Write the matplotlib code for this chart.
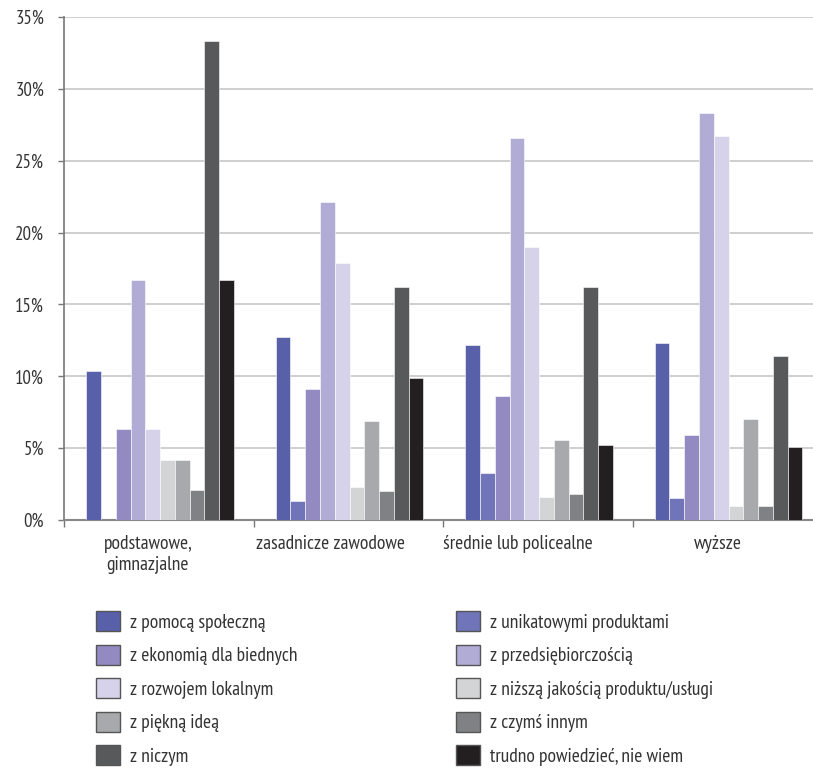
import matplotlib
matplotlib.use("Agg")
import matplotlib.pyplot as plt
from matplotlib.patches import Rectangle
from matplotlib.transforms import ScaledTranslation
import numpy as np

plt.rcParams['font.family'] = ['PT Sans Narrow', 'DejaVu Sans']

categories = ["podstawowe,\ngimnazjalne", "zasadnicze zawodowe", "średnie lub policealne", "wyższe"]
series = [
    "z pomocą społeczną",
    "z unikatowymi produktami",
    "z ekonomią dla biednych",
    "z przedsiębiorczością",
    "z rozwojem lokalnym",
    "z niższą jakością produktu/usługi",
    "z piękną ideą",
    "z czymś innym",
    "z niczym",
    "trudno powiedzieć, nie wiem",
]
colors = ["#5860AA", "#7074B8", "#938AC2", "#B1ACD6", "#D6D2E9",
          "#D3D4D5", "#A8A9AC", "#808184", "#58595B", "#231F20"]

s_pomoca = [10.4, 12.7, 12.2, 12.3]
s_unikat = [0.0, 1.3, 3.3, 1.5]
s_ekonomia = [6.3, 9.1, 8.6, 5.9]
s_przedsieb = [16.7, 22.1, 26.6, 28.3]
s_rozwoj = [6.3, 17.9, 19.0, 26.7]
s_nizsza = [4.2, 2.3, 1.6, 1.0]
s_piekna = [4.2, 6.9, 5.6, 7.0]
s_innym = [2.1, 2.0, 1.8, 1.0]
s_niczym = [33.3, 16.2, 16.2, 11.4]
s_trudno = [16.7, 9.9, 5.2, 5.1]
values = [s_pomoca, s_unikat, s_ekonomia, s_przedsieb, s_rozwoj,
          s_nizsza, s_piekna, s_innym, s_niczym, s_trudno]

yticks = [0, 5, 10, 15, 20, 25, 30, 35]
ytick_labels = ["0%", "5%", "10%", "15%", "20%", "25%", "30%", "35%"]

W, H = 813, 769
fig = plt.figure(figsize=(W/100, H/100), dpi=100)
ax = fig.add_axes([64/W, 1-520/H, (822-64)/W, (520-17)/H])

FS = 14
x = np.arange(len(categories))
bw = 0.078
handles = []
for j, (name, vals, c) in enumerate(zip(series, values, colors)):
    ax.bar(x + (j - 4.5)*bw + 0.007, vals, width=bw, color=c, edgecolor='white',
           linewidth=0.4, label=name, zorder=3)
    handles.append(Rectangle((0, 0), 1, 1, facecolor=c, edgecolor='#555555', linewidth=1.0))

ax.set_xlim(-0.5, 3.5)
ax.set_ylim(0, 35)
ax.set_yticks(yticks)
ax.set_yticklabels(ytick_labels, fontsize=13.5, color='#333333')
ax.yaxis.grid(True, color='#cccccc', linewidth=1.3, zorder=0)
ax.set_axisbelow(True)
ax.tick_params(axis='y', length=4.3, width=1, color='#777777', pad=10)

ax.set_xticks(x)
ax.set_xticklabels(categories, fontsize=FS, color='#333333', linespacing=1.2)
ax.set_xticks(np.arange(-0.5, 4.0, 1.0), minor=True)
ax.tick_params(axis='x', which='major', length=0, pad=11)
ax.tick_params(axis='x', which='minor', length=5, width=1, color='#777777', direction='out')
label_shift_px = [-11, -18, -20, -9]
for lbl, dx in zip(ax.get_xticklabels(), label_shift_px):
    lbl.set_transform(lbl.get_transform() + ScaledTranslation(dx/100, 0, fig.dpi_scale_trans))

for s in ['top', 'right']:
    ax.spines[s].set_visible(False)
ax.spines['left'].set_color('#777777')
ax.spines['left'].set_linewidth(1.2)
ax.spines['bottom'].set_color('#888888')
ax.spines['bottom'].set_linewidth(1.5)

order_left = [0, 2, 4, 6, 8]
order_right = [1, 3, 5, 7, 9]
common = dict(frameon=False, fontsize=FS, handlelength=1.23, handleheight=1.23,
              labelspacing=0.66, handletextpad=0.5, borderpad=0, borderaxespad=0,
              labelcolor='#333333')
leg1 = fig.legend([handles[i] for i in order_left], [series[i] for i in order_left],
                  loc='upper left', bbox_to_anchor=(96/W, 1-611/H), **common)
leg2 = fig.legend([handles[i] for i in order_right], [series[i] for i in order_right],
                  loc='upper left', bbox_to_anchor=(456/W, 1-611/H), **common)

fig.savefig("out.png", dpi=100)
